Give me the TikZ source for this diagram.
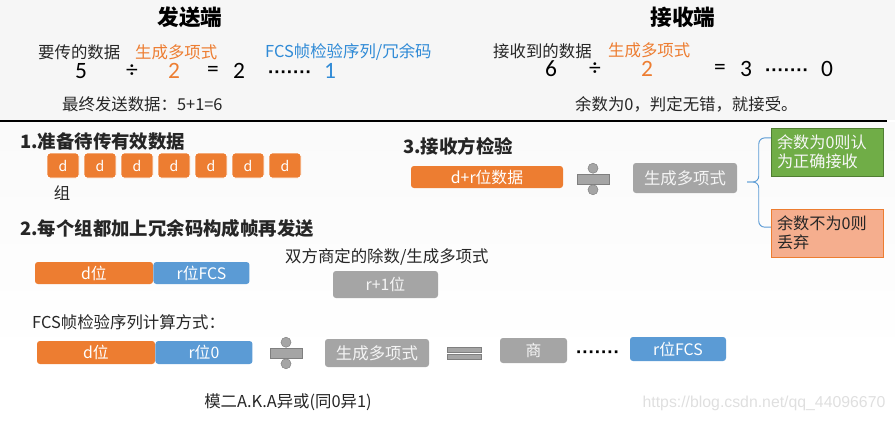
\documentclass[tikz,border=0pt]{standalone}
\usepackage{fontspec}
\setmainfont{Noto Sans CJK SC}
\newfontfamily\numfont{Carlito}
\newfontfamily\latinfont{Liberation Sans}
\usepackage{tikz}
\usetikzlibrary{positioning}
\definecolor{fcsorange}{HTML}{ED7D31}
\definecolor{fcsblue}{HTML}{5B9BD5}
\definecolor{fcstextblue}{HTML}{2F8AD6}
\definecolor{fcsgray}{HTML}{A5A5A5}
\definecolor{fcsgraydark}{HTML}{7F7F7F}
\definecolor{fcsgreen}{HTML}{70AD47}
\definecolor{fcsgreendark}{HTML}{507E32}
\definecolor{fcssalmon}{HTML}{F5AE8E}

\begin{document}
\begin{tikzpicture}[
    x=0.03cm, y=-0.03cm,
    every node/.style={inner sep=0},
    boxsize/.style 2 args={minimum width=#1*0.03cm, minimum height=#2*0.03cm},
    txt/.style={font=\fontsize{14}{16}\selectfont, text=black!85},
    title/.style={font=\fontsize{18.5}{20}\selectfont\bfseries},
    head/.style={font=\fontsize{15.7}{18}\selectfont\bfseries, text=black!85},
    num/.style={font=\numfont\fontsize{20}{22}\selectfont},
    dots/.style={font=\latinfont\bfseries\fontsize{16}{18}\selectfont},
    bitbox/.style={rectangle, rounded corners=2.5pt, text=white, 
        font=\fontsize{13.5}{15}\selectfont},
    data/.style={bitbox, fill=fcsorange},
    fcs/.style={bitbox, fill=fcsblue},
    poly/.style={bitbox, fill=fcsgray, text=white!92!gray},
    divbar/.style={rectangle, fill=fcsgray, draw=fcsgraydark, line width=0.4pt},
    divdot/.style={fill=fcsgray, draw=fcsgraydark, line width=0.4pt},
    note/.style={rectangle, align=left, text width=3cm, inner xsep=0.18cm, 
        minimum width=3.36cm, minimum height=1.44cm, 
        font=\fontsize{13.8}{16.5}\selectfont},
    ]

    \useasboundingbox (0,0) rectangle (895,421);
    \fill [gray!7] (0,0) rectangle (895,120);
    \shade [top color=gray!4, bottom color=white] (0,122) rectangle (895,360);
    \draw [line width=1.2pt] (0,121) -- (887,121);

    % sender / receiver example
    \node (send-title) [title] at (190,17) {发送端};
    \node (recv-title) [title] at (683,17) {接收端};

    \node (send-data-lbl) [txt, anchor=west] at (38,52) {要传的数据};
    \node (send-poly-lbl) [txt, anchor=west, text=fcsorange] at (135,52) {生成多项式};
    \node (send-fcs-lbl) [txt, anchor=west, text=fcstextblue] at (265,52) {FCS帧检验序列/冗余码};
    \node (send-5) [num] at (81,71) {5};
    \node (send-div) [num] at (132,71) {÷};
    \node (send-2) [num, text=fcsorange] at (174,71) {2};
    \node (send-eq) [num] at (213,71) {=};
    \node (send-q) [num] at (239,71) {2};
    \node (send-dots) [dots] at (290,75) {·······};
    \node (send-1) [num, text=fcstextblue] at (330,71) {1};
    \node (send-final) [txt, anchor=west] at (62,104) {最终发送数据：5+1=6};

    \node (recv-data-lbl) [txt, anchor=west] at (493,51) {接收到的数据};
    \node (recv-poly-lbl) [txt, anchor=west, text=fcsorange] at (608,50) {生成多项式};
    \node (recv-6) [num] at (551,69) {6};
    \node (recv-div) [num] at (595,69) {÷};
    \node (recv-2) [num, text=fcsorange] at (647,69) {2};
    \node (recv-eq) [num] at (720,69) {=};
    \node (recv-q) [num] at (746,69) {3};
    \node (recv-dots) [dots] at (787,73) {·······};
    \node (recv-0) [num] at (827,69) {0};
    \node (recv-final) [txt, anchor=west] at (575,104) {余数为0，判定无错，就接受。};

    % step 1
    \node (step1) [head, anchor=west] at (20,142) {1.准备待传有效数据};
    \foreach \i in {1,...,7} {
        \node (d\i) [data, boxsize={32}{25}, draw=white, line width=0.8pt, 
            font=\fontsize{12}{14}\selectfont] at (26+37*\i,165.5) {d};
    }
    \node (group) [txt] at (62,193) {组};

    % step 2
    \node (step2) [head, anchor=west] at (20,228) {2.每个组都加上冗余码构成帧再发送};
    \node (frame-d) [data, boxsize={118}{22}] at (94,273) {d位};
    \node (frame-r) [fcs, boxsize={96}{22}, right=0 of frame-d] {r位FCS};
    \node (divisor-lbl) [txt, anchor=west] at (285,257) {双方商定的除数/生成多项式};
    \node (divisor) [poly, boxsize={105}{27}] at (385.5,284.5) {r+1位};

    % step 3
    \node (step3) [head, anchor=west] at (403,146) {3.接收方检验};
    \node (rx-data) [data, boxsize={152}{22}] at (487,177) {d+r位数据};
    \node (rx-poly) [poly, boxsize={104}{30}, font=\fontsize{14}{16}\selectfont] 
        at (685,178) {生成多项式};
    \node (ok) [note, fill=fcsgreen, draw=fcsgreendark, text=white!94!gray] 
        at (827,152) {余数为0则认\\为正确接收};
    \node (fail) [note, fill=fcssalmon, draw=fcsorange, text=black!85] 
        at (827,233) {余数不为0则\\丢弃};
    \coordinate (brace-tip) at (747,182);
    \draw [fcsblue, line width=0.8pt, rounded corners=5pt] 
        ([yshift=12pt]ok.west) -- ++(-12,0) |- (brace-tip);
    \draw [fcsblue, line width=0.8pt, rounded corners=5pt] 
        ([yshift=5pt]fail.west) -- ++(-12,0) |- (brace-tip);

    % FCS calculation
    \node (calc-lbl) [txt, anchor=west] at (32,322) {FCS帧检验序列计算方式：};
    \node (calc-d) [data, boxsize={118}{23}] at (96,352.5) {d位};
    \node (calc-r) [fcs, boxsize={97}{23}, right=0 of calc-d] {r位0};
    \node (calc-poly) [poly, boxsize={104}{28}, font=\fontsize{14}{16}\selectfont] 
        at (377,353) {生成多项式};
    \node (eq-top) [divbar, boxsize={34}{5.5}] at (464,349.5) {};
    \node (eq-bot) [divbar, boxsize={34}{5.5}, below=1.2pt of eq-top] {};
    \node (quot) [poly, boxsize={67}{25}] at (533.5,350.5) {商};
    \node (calc-dots) [dots] at (598,355) {·······};
    \node (calc-fcs) [fcs, boxsize={96}{24}] at (678,349) {r位FCS};
    \node (mod2) [txt] at (288,402) {模二A.K.A异或(同0异1)};

    \foreach \n/\x/\y in {div-rx/593/179, div-calc/286/353} {
        \node (\n) [divbar, boxsize={32}{10}] at (\x,\y) {};
        \draw [divdot] (\n.north) ++(0,-5.5) circle (4.3pt);
        \draw [divdot] (\n.south) ++(0,5.5) circle (4.3pt);
    }

    \node (watermark) [font=\latinfont\fontsize{13.5}{15}\selectfont, text=gray!25] 
        at (764,403) {https://blog.csdn.net/qq\_44096670};
\end{tikzpicture}
\end{document}
